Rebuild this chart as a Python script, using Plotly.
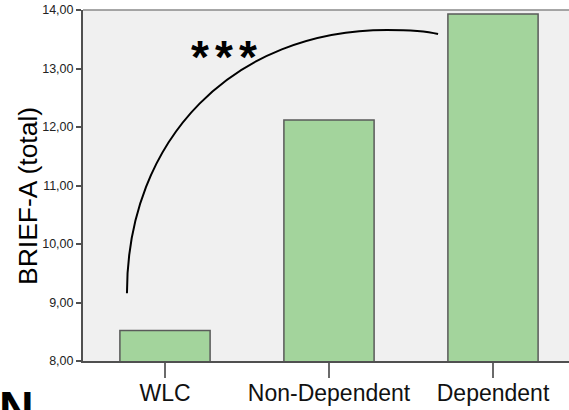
import plotly.graph_objects as go

# Mean BRIEF-A totals per group
groups = ["WLC", "Non-Dependent", "Dependent"]
brief_a_total = [8.52, 12.12, 13.93]

# y-axis ticks
y_ticks = [8, 9, 10, 11, 12, 13, 14]

# significance arc: start point, then (ctrl1, ctrl2, end) per cubic segment, in data units
arc_start = (-0.232, 9.16)
arc_segments = [
    ((-0.232, 11.80), (0.420, 13.66), (1.354, 13.66)),
    ((1.506, 13.66), (1.604, 13.633), (1.665, 13.59)),
]

# positions of the three significance stars (category units, value units)
star_x = [0.214, 0.357, 0.506]
star_y = 13.20

W, H = 569, 410
ML, MR, MT, MB = 83, 0, 10, 49
plot_w = W - ML - MR
plot_h = H - MT - MB


def px_to_paper(px, py):
    return (px - ML) / plot_w, (H - MB - py) / plot_h


fig = go.Figure()

fig.add_trace(go.Bar(
    x=list(range(len(groups))),
    y=brief_a_total,
    base=0,
    width=0.55,
    marker=dict(color="#a3d49c", line=dict(color="#5a5a5a", width=1.5)),
    hoverinfo="skip",
))

path = "M {} {}".format(*arc_start)
for c1, c2, end in arc_segments:
    path += " C {} {}, {} {}, {} {}".format(*c1, *c2, *end)

font_family = "Liberation Sans, Arial, sans-serif"

ann = []
for sxv in star_x:
    ann.append(dict(text="<b>*</b>", xref="x", yref="y", x=sxv, y=star_y,
                    xanchor="center", yanchor="middle", showarrow=False,
                    font=dict(family=font_family, size=46, color="black")))
tx, ty = px_to_paper(28, 196)
ann.append(dict(text="BRIEF-A (total)", xref="paper", yref="paper", x=tx, y=ty,
                xanchor="center", yanchor="middle", textangle=-90, showarrow=False,
                font=dict(family=font_family, size=26.5, color="black")))
nx, ny = px_to_paper(36, 380)
ann.append(dict(text="<b>N</b>", xref="paper", yref="paper", x=nx, y=ny,
                xanchor="right", yanchor="top", showarrow=False,
                font=dict(family=font_family, size=48, color="black")))

fig.update_layout(
    width=W, height=H,
    margin=dict(l=ML, r=MR, t=MT, b=MB, pad=0),
    paper_bgcolor="white",
    plot_bgcolor="#f0f0f0",
    showlegend=False,
    separators=",.",
    annotations=ann,
    shapes=[
        dict(type="line", xref="paper", yref="paper", x0=0, x1=1, y0=1, y1=1,
             line=dict(color="#8a8a8a", width=1.5)),
        dict(type="path", xref="x", yref="y", path=path,
             line=dict(color="black", width=2)),
    ],
    xaxis=dict(
        range=[-0.5, (W - MR - ML) / 164 - 0.5],
        tickmode="array",
        tickvals=list(range(len(groups))),
        ticktext=groups,
        ticks="outside", ticklen=15, tickwidth=1.5, tickcolor="#6a6a6a",
        ticklabelstandoff=-5,
        showline=True, linecolor="#505050", linewidth=2,
        showgrid=False, zeroline=False,
        tickfont=dict(family=font_family, size=23, color="#111111"),
        fixedrange=True,
    ),
    yaxis=dict(
        range=[8, 14],
        tickmode="array",
        tickvals=y_ticks,
        tickformat=".2f",
        ticks="outside", ticklen=5, tickwidth=1.5, tickcolor="#505050",
        showline=True, linecolor="#505050", linewidth=2,
        showgrid=False, zeroline=False,
        tickfont=dict(family=font_family, size=12.5, color="#222222"),
        fixedrange=True,
    ),
)

fig.write_html("out.html")
